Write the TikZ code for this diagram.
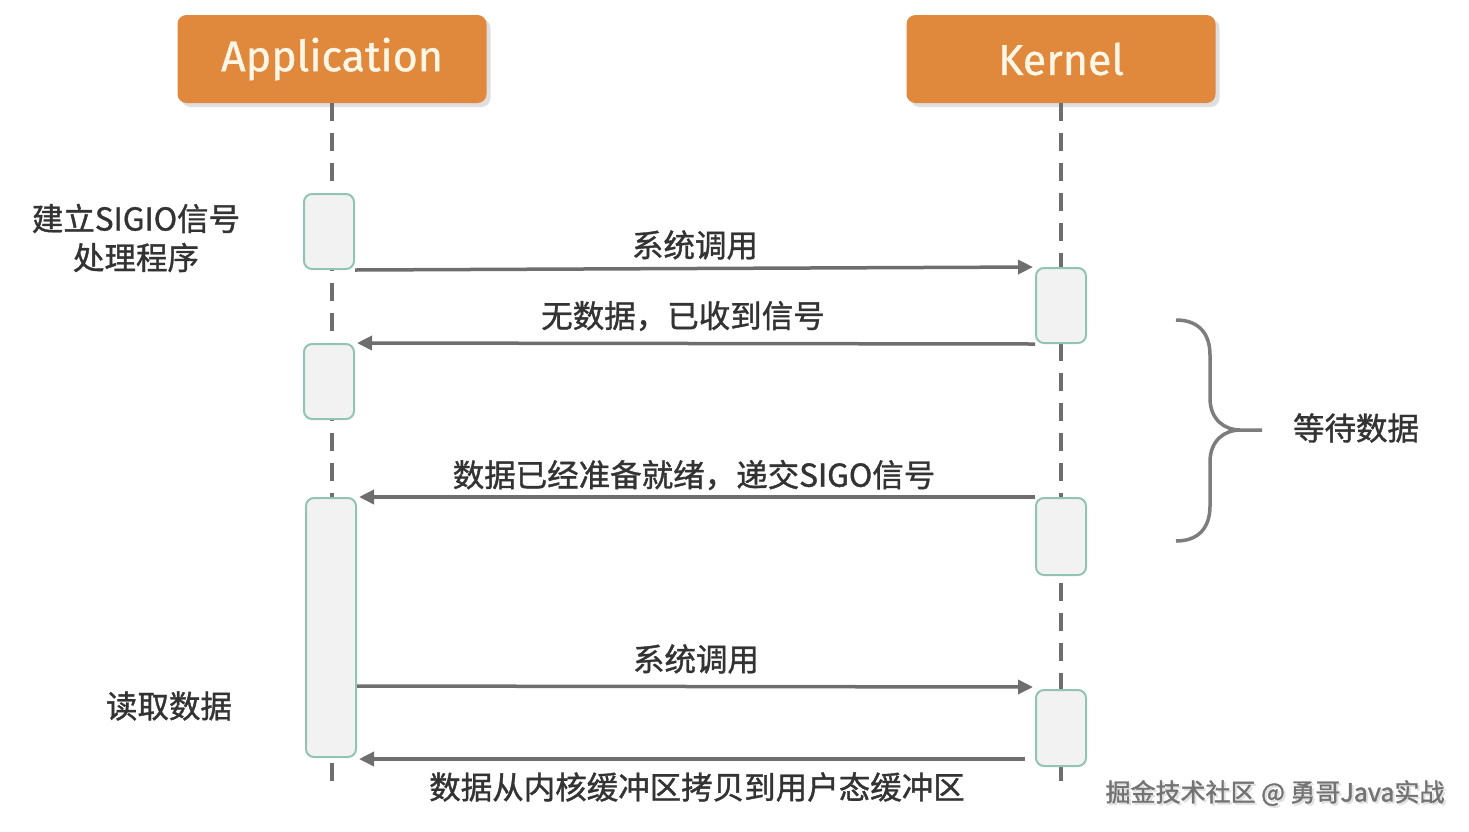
\documentclass[tikz,border=0pt]{standalone}
\usepackage{fontspec}
\setmainfont[FakeBold=1.2]{Noto Sans CJK SC}
\newfontfamily\latinhead[FakeBold=0.8]{Fira Sans}
\newfontfamily\wmfont[FakeBold=1.5]{Noto Sans CJK SC}
\usetikzlibrary{shadows,arrows.meta}
\definecolor{orangebox}{HTML}{E0883C}
\definecolor{headtext}{HTML}{FFF6E6}
\definecolor{linegray}{HTML}{6E6E6E}
\definecolor{actfill}{HTML}{F2F2F2}
\definecolor{actdraw}{HTML}{92C4B2}
\definecolor{txtgray}{HTML}{333333}
\tikzset{
  x=1pt,y=-1pt,
  head/.style={fill=orangebox,rounded corners=9pt,minimum width=309pt,minimum height=88pt,
    drop shadow={shadow xshift=4pt,shadow yshift=-4pt,fill=black!25},text=headtext,font=\latinhead\fontsize{43}{48}\selectfont},
  life/.style={draw=linegray,line width=3.5pt,dash pattern=on 18pt off 12pt},
  act/.style={draw=actdraw,fill=actfill,line width=2pt,rounded corners=8pt,minimum width=50pt,inner sep=0pt},
  msg/.style={draw=linegray,line width=3.5pt,shorten >=2pt,-{Triangle[length=15pt,width=14pt]}},
  lbl/.style={text=txtgray,font=\fontsize{31.5}{39}\selectfont},
}
\begin{document}
\begin{tikzpicture}
\useasboundingbox (0,0) rectangle (1469,831);
\node[head] (app) at (332,59) {\raisebox{-4pt}{Application}};
\node[head] (ker) at (1061,59) {\raisebox{-4pt}{Kernel}};
\coordinate (append) at (332,782);
\coordinate (kerend) at (1061,782);
\draw[life] (app.south) -- (append);
\draw[life] (ker.south) -- (kerend);
% activations
\node[act,minimum height=75pt] (a1) at (329,231.5) {};
\node[act,minimum height=75pt] (a2) at (329,381.5) {};
\node[act,minimum height=259pt] (a3) at (331,627.5) {};
\node[act,minimum height=75pt] (k1) at (1061,305.5) {};
\node[act,minimum height=77pt] (k2) at (1061,536.5) {};
\node[act,minimum height=76pt] (k3) at (1061,728) {};
% messages
\draw[msg] (a1.south east) -- (k1.north west);
\draw[msg] (k1.south west) -- (a2.north east);
\draw[msg] (k2.north west) -- (a3.north east);
\coordinate (m4s) at (a3.east |- 0,686);
\coordinate (m4e) at (k3.west |- 0,687);
\draw[msg] (m4s) -- (m4e);
\coordinate (m5s) at (1025,759);
\coordinate (m5e) at (a3.east |- 0,759);
\draw[msg] (m5s) -- (m5e);
% labels
\node[lbl] (t1) at (695,245) {系统调用};
\node[lbl] (t2) at (683,316) {无数据，已收到信号};
\node[lbl] (t3) at (694,475) {数据已经准备就绪，递交SIGO信号};
\node[lbl] (t4) at (696,659) {系统调用};
\node[lbl] (t5) at (697,787) {数据从内核缓冲区拷贝到用户态缓冲区};
\node[lbl,align=center] (l1) at (136,238) {建立SIGIO信号\\处理程序};
\node[lbl] (l2) at (169,706) {读取数据};
% brace
\draw[draw=linegray!90,line width=3.5pt] (1176,320) .. controls (1200,320) and (1210,335) .. (1210,355)
  -- (1210,398) .. controls (1210,420) and (1225,430) .. (1240,430) -- (1262,430);
\draw[draw=linegray!90,line width=3.5pt] (1176,541) .. controls (1200,541) and (1210,526) .. (1210,506)
  -- (1210,462) .. controls (1210,440) and (1225,430) .. (1240,430);
\node[lbl] (l3) at (1356,428) {等待数据};
% watermark
\node[text=black!12,font=\wmfont\fontsize{25}{28}\selectfont] at (1277,795) {掘金技术社区 @ 勇哥Java实战};
\node[text=black!55,font=\wmfont\fontsize{25}{28}\selectfont] (wm) at (1275,793) {掘金技术社区 @ 勇哥Java实战};
\end{tikzpicture}
\end{document}
